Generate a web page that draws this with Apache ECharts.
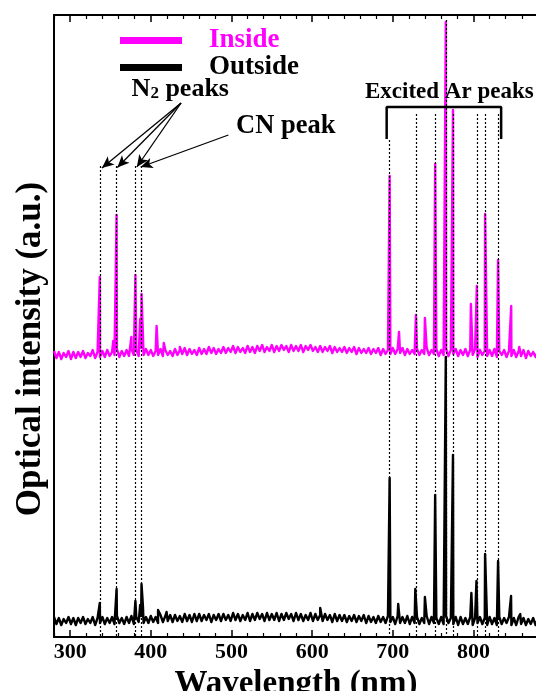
<!DOCTYPE html>
<html><head><meta charset="utf-8">
<script src="https://cdn.jsdelivr.net/npm/echarts@6/dist/echarts.min.js"></script>
<style>html,body{margin:0;padding:0;background:#fff}#c{width:536px;height:691px}</style>
</head><body><div id="c"></div>
<script>
// ---- data (wavelength in nm, intensity in arbitrary units) ----
const wavelengthStart = 280;
const wavelengthStep = 3;
const insideBaseline = [
286,279,285,278,284,280,286,278,285,279,
285,280,286,279,284,281,287,279,285,280,
286,280,287,281,285,282,288,280,286,281,
287,281,288,282,287,281,289,282,288,282,
287,281,286,282,288,281,287,282,286,281,
288,282,287,283,289,282,288,283,287,282,
289,283,288,283,290,284,289,283,288,284,
290,284,289,285,291,284,290,285,289,284,
291,285,290,284,291,286,292,285,290,286,
292,285,291,286,292,287,291,285,292,286,
291,286,292,285,291,287,292,286,290,285,
291,285,290,286,291,284,290,285,289,285,
290,284,289,285,290,283,289,284,288,284,
289,283,288,284,289,282,288,283,287,283,
289,283,288,284,289,282,288,283,287,283,
288,282,287,283,289,282,287,283,288,281,
287,282,288,281,287,283,288,281,287,282,
288,281,287,282,288,280,287,282,286,281,
287,281,288,280,286,282,287,280,286,281,
287,280,286,281,287,279,286,281,285,280,
286];
const outsideBaseline = [
20,13,19,12,18,14,20,13,19,12,
19,14,20,13,18,14,20,12,19,14,
20,13,19,14,20,13,21,14,19,13,
20,14,21,13,20,15,21,14,20,14,
21,15,20,14,22,15,21,16,22,15,
22,16,21,15,23,16,22,15,23,16,
23,16,22,17,23,15,22,17,23,16,
23,17,22,16,24,17,23,16,22,17,
24,16,23,17,24,18,23,16,24,17,
23,17,24,16,23,17,24,18,23,16,
24,17,23,16,22,17,24,16,23,17,
22,16,23,17,22,15,23,16,22,16,
22,15,21,16,22,15,21,16,22,14,
21,15,20,14,21,15,20,14,21,15,
20,13,21,14,20,14,21,13,20,14,
20,13,19,14,21,13,20,14,19,13,
20,13,21,14,19,13,20,12,20,13,
19,13,20,12,19,14,20,13,19,12,
20,13,19,12,20,13,19,14,20,12,
19,12,20,13,19,12,18,13,19,12,
18];
const insidePeaks = [
[336.8,360],[353.4,296],[357.6,422],[375.9,300],[380.9,362],[386.8,318],[388.5,343],[390.3,300],
[407.2,311],[416.1,294],[436.0,290],
[696.1,461],[707.7,305],[728.7,322],[739.8,319],[752.5,473],[765.7,615],[774.6,527],
[796.8,333],[804.2,351],[814.4,423],[830.5,377],[846.8,331],[856.8,290]];
const outsidePeaks = [
[336.8,34],[357.6,48],[380.9,36],[386.8,32],[388.5,53],[390.3,30],[409.0,27],[419.5,25],[610.0,29],
[696.1,159],[706.7,33],[727.9,48],[739.8,40],[752.5,142],[765.7,280],[774.6,182],
[797.4,44],[803.7,56],[814.4,83],[830.5,76],[846.6,41],[858.0,23]];
const majorTicks = [300,400,500,600,700,800];
const tickLabels = [300,400,500,600,700,800];
const minorTicks = [280,320,340,360,380,420,440,460,480,520,540,560,580,620,640,660,680,720,740,760,780,820,840,860,880];
const n2Lines = [336.8,357.6,380.9,388.5];
const n2LineTop = 471;
const arLines = [696.1,728.7,752.5,765.7,774.6,804.2,814.4,830.5];
const arLineTops = [497,523,523,617,523,523,523,523];
const bracket = [[692.4,498],[692.4,530],[834.3,530],[834.3,498]];
const n2ArrowFrom = [437.5,534];
const n2ArrowTo = [[339.4,469],[358.5,469.5],[382.7,470]];
const cnArrowFrom = [496.2,502];
const cnArrowTo = [387.5,470];

// ---- build ----
function build(base, peaks){
  const pts = base.map((v,i)=>[wavelengthStart + i*wavelengthStep, v]);
  return pts.concat(peaks).sort((a,b)=>a[0]-b[0]);
}
const FF = '"Liberation Serif","Times New Roman",serif';
const dotted = {type:[2,2], width:1.2, color:'#000'};
const markData = [];
n2Lines.forEach(x=>markData.push([{coord:[x,n2LineTop], lineStyle:dotted},{coord:[x,0]}]));
arLines.forEach((x,i)=>markData.push([{coord:[x,arLineTops[i]], lineStyle:dotted},{coord:[x,0]}]));
const arrowStyle = {type:'solid', width:1.3, color:'#000'};
n2ArrowTo.forEach(t=>markData.push([{coord:n2ArrowFrom, lineStyle:arrowStyle, symbol:'none'},{coord:t, symbol:'arrow', symbolSize:[8,12]}]));
markData.push([{coord:cnArrowFrom, lineStyle:arrowStyle, symbol:'none'},{coord:cnArrowTo, symbol:'arrow', symbolSize:[8,12]}]);

const axisBase = {type:'value', min:280, max:880, splitLine:{show:false}};
const chart = echarts.init(document.getElementById('c'), null, {renderer:'canvas'});
chart.setOption({
  animation:false,
  backgroundColor:'#fff',
  grid:{left:54, right:-2, top:15, bottom:54, containLabel:false, outerBoundsMode:'none'},
  legend:{
    left:115, top:22, orient:'vertical', icon:'rect', itemWidth:62, itemHeight:7, itemGap:0,
    textStyle:{fontFamily:FF, fontWeight:'bold', fontSize:27, lineHeight:27, padding:[0,0,0,22]},
    data:[{name:'Inside', textStyle:{color:'#ff00ff'}},{name:'Outside', textStyle:{color:'#000'}}]
  },
  xAxis:[
    Object.assign({}, axisBase, {position:'bottom',
      axisLine:{lineStyle:{color:'#000', width:2}},
      axisTick:{inside:true, length:7, customValues:majorTicks, lineStyle:{color:'#000', width:1.5}},
      axisLabel:{customValues:tickLabels, color:'#000', fontFamily:FF, fontWeight:'bold', fontSize:22, margin:4},
      name:'Wavelength (nm)', nameLocation:'middle', nameGap:31,
      nameTextStyle:{color:'#000', fontFamily:FF, fontWeight:'bold', fontSize:33}}),
    Object.assign({}, axisBase, {position:'bottom', axisLine:{show:false},
      axisTick:{inside:true, length:4, customValues:minorTicks, lineStyle:{color:'#000', width:1.2}},
      axisLabel:{show:false}}),
    Object.assign({}, axisBase, {position:'top',
      axisLine:{lineStyle:{color:'#000', width:2}},
      axisTick:{inside:true, length:7, customValues:majorTicks, lineStyle:{color:'#000', width:1.5}},
      axisLabel:{show:false}}),
    Object.assign({}, axisBase, {position:'top', axisLine:{show:false},
      axisTick:{inside:true, length:4, customValues:minorTicks, lineStyle:{color:'#000', width:1.2}},
      axisLabel:{show:false}})
  ],
  yAxis:{type:'value', min:0, max:622, splitLine:{show:false},
    axisLine:{show:true, lineStyle:{color:'#000', width:2}}, axisTick:{show:false}, axisLabel:{show:false},
    name:'Optical intensity (a.u.)', nameLocation:'middle', nameGap:6,
    nameTextStyle:{color:'#000', fontFamily:FF, fontWeight:'bold', fontSize:35, padding:[0,46,0,0]}},
  series:[
    {name:'Inside', type:'line', data:build(insideBaseline, insidePeaks), showSymbol:false, symbol:'none',
      lineStyle:{color:'#ff00ff', width:2.4, join:'round'}, itemStyle:{color:'#ff00ff'}, z:2},
    {name:'Outside', type:'line', data:build(outsideBaseline, outsidePeaks), showSymbol:false, symbol:'none',
      lineStyle:{color:'#000', width:2.4, join:'round'}, itemStyle:{color:'#000'}, z:3},
    {name:'bracket', type:'line', data:bracket, showSymbol:false, symbol:'none',
      lineStyle:{color:'#000', width:2.5}, z:4, silent:true},
    {name:'annotations', type:'line', data:[], z:5, silent:true,
      markLine:{silent:true, symbol:['none','none'], label:{show:false}, data:markData}}
  ],
  graphic:[
    {type:'text', x:131.6, y:89.3, z:10, style:{text:'{n|N}{s|2}{n| peaks}', fill:'#000', textVerticalAlign:'middle',
      rich:{n:{fontFamily:FF, fontWeight:'bold', fontSize:26, lineHeight:26, verticalAlign:'bottom'},
            s:{fontFamily:FF, fontWeight:'bold', fontSize:17, lineHeight:10, verticalAlign:'bottom'}}}},
    {type:'text', x:236, y:126.4, z:10, style:{text:'CN peak', fill:'#000', font:'bold 26.5px '+FF, textVerticalAlign:'middle'}},
    {type:'text', x:365, y:91.7, z:10, style:{text:'Excited Ar peaks', fill:'#000', font:'bold 23px '+FF, textVerticalAlign:'middle'}}
  ]
});
</script></body></html>
